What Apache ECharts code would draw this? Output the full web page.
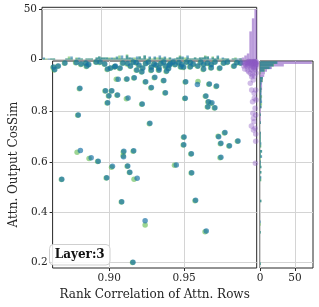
<!DOCTYPE html>
<html><head><meta charset="utf-8">
<script src="https://cdn.jsdelivr.net/npm/echarts@6/dist/echarts.min.js"></script>
<style>html,body{margin:0;padding:0;background:#fff}#c{width:319px;height:307px}</style>
</head><body><div id="c"></div>
<script>
const xTicks = [0.90, 0.95];
const yTicks = [0.2, 0.4, 0.6, 0.8];
const countTicks = [0, 50];
const xTitle = 'Rank Correlation of Attn. Rows';
const yTitle = 'Attn. Output CosSim';
const layerLabel = 'Layer:3';

const blueSeries = [
[0.8629,0.9777],[0.8661,0.9817],[0.8705,0.9936],[0.8781,0.9956],[0.8813,0.9896],[0.8845,0.9936],[0.8864,0.9876],[0.8851,0.9817],
[0.8914,0.9976],[0.8940,0.9976],[0.8971,0.9896],[0.8990,0.9697],[0.9010,0.9737],[0.9041,0.9817],[0.9073,0.9737],[0.9092,0.9936],
[0.9124,0.9916],[0.9143,0.9817],[0.9162,0.9976],[0.9181,0.9956],[0.9200,0.9857],[0.9225,0.9737],[0.9244,0.9916],[0.9263,0.9976],
[0.9282,0.9777],[0.9301,0.9896],[0.9314,0.9857],[0.9333,0.9737],[0.9346,0.9916],[0.9365,0.9976],[0.9378,0.9817],[0.9397,0.9717],
[0.9409,0.9916],[0.9428,0.9976],[0.9441,0.9876],[0.9466,0.9956],[0.9485,0.9876],[0.9498,0.9777],[0.9517,0.9976],[0.9542,0.9956],
[0.9562,0.9896],[0.9593,0.9817],[0.9612,0.9976],[0.9631,0.9876],[0.9657,0.9936],[0.9682,0.9876],[0.9707,0.9976],[0.9739,0.9737],
[0.9765,0.9936],[0.9790,0.9976],[0.9834,0.9817],[0.9853,0.9956],[0.9879,0.9936],[0.9282,0.9657],[0.9333,0.9657],[0.9384,0.9617],
[0.9403,0.9857],[0.9479,0.9789],[0.9542,0.9789],[0.9631,0.9697],[0.9682,0.9749],[0.9219,0.9590],[0.9185,0.9657],[0.9039,0.9789],
[0.8637,0.9677],
[0.8805,0.8928],[0.8794,0.7865],[0.8808,0.6455],[0.8684,0.5303],[0.8880,0.6165],[0.8927,0.6020],[0.8984,0.5367],[0.9022,0.5820],
[0.9084,0.4410],[0.9098,0.6418],[0.9164,0.6438],[0.9096,0.6203],[0.9124,0.5833],[0.9138,0.5586],[0.9187,0.5343],[0.9240,0.3654],
[0.9159,0.1996],[0.8976,0.8833],[0.9018,0.8833],[0.8999,0.8633],[0.9056,0.8661],[0.8990,0.8355],[0.9126,0.8545],[0.9221,0.8303],
[0.9272,0.7534],[0.9060,0.9287],[0.9119,0.9299],[0.9168,0.9351],[0.9244,0.9191],[0.9282,0.8960],[0.9305,0.9365],[0.9376,0.8753],
[0.9365,0.9239],[0.9508,0.8530],[0.9511,0.9191],[0.9589,0.9080],[0.9669,0.9100],[0.9717,0.9020],[0.9646,0.8622],[0.9663,0.8394],
[0.9686,0.8350],[0.9706,0.8155],[0.9659,0.8195],[0.9500,0.6988],[0.9498,0.6681],[0.9549,0.6323],[0.9731,0.7000],[0.9773,0.7167],
[0.9746,0.6737],[0.9803,0.6641],[0.9860,0.6829],[0.9746,0.6179],[0.9448,0.5873],[0.9551,0.5566],[0.9577,0.4466],[0.9648,0.3245]
];

const greenSeries = [
[0.8625,0.9760],[0.8656,0.9802],[0.8702,0.9925],[0.8776,0.9950],[0.8810,0.9880],[0.8841,0.9920],[0.8860,0.9866],[0.8847,0.9801],
[0.8911,0.9968],[0.8935,0.9961],[0.8968,0.9884],[0.8986,0.9680],[0.9006,0.9729],[0.9037,0.9799],[0.9070,0.9722],[0.9088,0.9928],
[0.9119,0.9900],[0.9140,0.9805],[0.9158,0.9962],[0.9177,0.9945],[0.9196,0.9840],[0.9221,0.9726],[0.9241,0.9903],[0.9258,0.9966],
[0.9279,0.9760],[0.9297,0.9887],[0.9310,0.9843],[0.9330,0.9725],[0.9342,0.9902],[0.9361,0.9967],[0.9374,0.9800],[0.9393,0.9706],
[0.9405,0.9905],[0.9424,0.9960],[0.9437,0.9864],[0.9462,0.9941],[0.9481,0.9868],[0.9494,0.9761],[0.9513,0.9965],[0.9538,0.9946],
[0.9558,0.9881],[0.9589,0.9806],[0.9608,0.9961],[0.9627,0.9865],[0.9653,0.9921],[0.9678,0.9867],[0.9703,0.9962],[0.9735,0.9721],
[0.9761,0.9926],[0.9786,0.9960],[0.9830,0.9806],[0.9849,0.9940],[0.9875,0.9925],[0.9278,0.9641],[0.9329,0.9648],[0.9380,0.9600],
[0.9399,0.9846],[0.9475,0.9773],[0.9538,0.9780],[0.9627,0.9682],[0.9678,0.9740],[0.9215,0.9575],[0.9181,0.9648],[0.9035,0.9774],
[0.8633,0.9662],
[0.8801,0.8912],[0.8790,0.7850],[0.8786,0.6378],[0.8681,0.5290],[0.8866,0.6135],[0.8923,0.6008],[0.8980,0.5352],[0.9016,0.5780],
[0.9081,0.4398],[0.9094,0.6395],[0.9160,0.6425],[0.9093,0.6240],[0.9120,0.5820],[0.9135,0.5570],[0.9166,0.5303],[0.9240,0.3482],
[0.9156,0.1985],[0.8972,0.8820],[0.9014,0.8818],[0.8995,0.8620],[0.9052,0.8648],[0.8986,0.8340],[0.9115,0.8515],[0.9217,0.8290],
[0.9268,0.7520],[0.9048,0.9287],[0.9115,0.9285],[0.9164,0.9336],[0.9240,0.9176],[0.9278,0.8945],[0.9301,0.9350],[0.9372,0.8740],
[0.9361,0.9225],[0.9504,0.8517],[0.9507,0.9180],[0.9593,0.9199],[0.9665,0.9085],[0.9713,0.9005],[0.9642,0.8608],[0.9659,0.8380],
[0.9678,0.8325],[0.9702,0.8140],[0.9655,0.8182],[0.9496,0.6975],[0.9494,0.6668],[0.9545,0.6310],[0.9727,0.7015],[0.9769,0.7152],
[0.9742,0.6722],[0.9799,0.6626],[0.9856,0.6815],[0.9740,0.6165],[0.9436,0.5866],[0.9547,0.5552],[0.9573,0.4452],[0.9640,0.3215]
];

const purpleSeries = [
[0.9891,0.9976],[0.9904,0.9936],[0.9917,0.9976],[0.9923,0.9896],[0.9930,0.9996],[0.9936,0.9936],[0.9942,0.9976],[0.9945,0.9896],
[0.9949,0.9996],[0.9955,0.9936],[0.9958,0.9976],[0.9961,0.9896],[0.9964,0.9996],[0.9968,0.9936],[0.9971,0.9976],[0.9974,0.9896],
[0.9977,0.9996],[0.9980,0.9936],[0.9983,0.9976],[0.9983,0.9876],[0.9977,0.9936],[0.9968,0.9996],[0.9952,0.9936],[0.9936,0.9996],
[0.9923,0.9956],[0.9911,0.9896],
[0.9898,0.9817],[0.9911,0.9857],[0.9922,0.9789],[0.9930,0.9837],[0.9942,0.9777],[0.9949,0.9857],[0.9955,0.9797],[0.9961,0.9857],
[0.9968,0.9777],[0.9974,0.9817],[0.9980,0.9857],[0.9980,0.9757],[0.9964,0.9737],
[0.9904,0.9697],[0.9923,0.9657],[0.9931,0.9590],[0.9942,0.9526],[0.9949,0.9677],[0.9961,0.9617],[0.9974,0.9657],[0.9980,0.9538],
[0.9955,0.9458],[0.9971,0.9418],
[0.9951,0.9390],[0.9962,0.9259],[0.9942,0.9127],[0.9951,0.8861],[0.9968,0.8729],[0.9980,0.8462],[0.9957,0.8394],[0.9974,0.8131],
[0.9959,0.7932],[0.9978,0.7865],[0.9963,0.7733],[0.9966,0.7598],[0.9949,0.7426],[0.9974,0.7335],[0.9963,0.7267],[0.9978,0.7108],
[0.9978,0.6817],[0.9976,0.5940],[0.9978,0.8861],[0.9969,0.8530]
];

// purple marginal histogram counts
const purpleTopCounts = [1, 2, 4, 6, 28, 41, 50];          // x-bins ending at 0.9986
const purpleRightCounts = [74, 34, 17, 10, 7, 6, 4, 4, 3, 3, 3, 2, 2, 2, 2, 2, 1, 2, 1, 1, 1, 1, 1, 1, 0, 0, 0, 1, 0, 0, 0, 0, 0, 0, 0, 0, 0, 0, 1];

// ---- layout / binning params
const X_MIN = 0.86225, X_MAX = 0.99847, Y_MIN = 0.1769, Y_MAX = 1.0016;
const XB0 = 0.8626, XBW = 0.0016, NXB = 85;
const YBTOP = 1.0005, YBH = 0.0104, NYB = 80;

function histX(pts){ const c=new Array(NXB).fill(0); pts.forEach(p=>{const i=Math.floor((p[0]-XB0)/XBW); if(i>=0&&i<NXB)c[i]++;}); return c.map((n,i)=>[XB0+i*XBW, XB0+(i+1)*XBW, n]).filter(d=>d[2]>0); }
function histY(pts){ const c=new Array(NYB).fill(0); pts.forEach(p=>{const i=Math.floor((YBTOP-p[1])/YBH); if(i>=0&&i<NYB)c[i]++;}); return c.map((n,i)=>[YBTOP-(i+1)*YBH, YBTOP-i*YBH, n]).filter(d=>d[2]>0); }
const purpleTopData = purpleTopCounts.map((n,k)=>{const i=NXB-purpleTopCounts.length+k; return [XB0+i*XBW, XB0+(i+1)*XBW, n];}).filter(d=>d[2]>0);
const purpleRightData = purpleRightCounts.map((n,i)=>[YBTOP-(i+1)*YBH, YBTOP-i*YBH, n]).filter(d=>d[2]>0);

const C_BLUE='rgba(25,115,165,0.85)', C_GREEN='rgba(80,180,60,0.7)', C_PURPLE='rgba(140,90,195,0.5)';
const H_BLUE='rgba(25,115,165,0.6)', H_GREEN='rgba(80,180,60,0.55)', H_PURPLE='rgba(140,90,195,0.6)';
const FONT='DejaVu Serif', TXT='#262626';

function vBar(color){ return function(params, api){ const p0=api.coord([api.value(0),0]), p1=api.coord([api.value(1),api.value(2)]);
  return {type:'rect', shape:{x:p0[0], y:p1[1], width:p1[0]-p0[0], height:p0[1]-p1[1]}, style:{fill:color}}; }; }
function hBar(color){ return function(params, api){ const p0=api.coord([0,api.value(0)]), p1=api.coord([api.value(2),api.value(1)]);
  return {type:'rect', shape:{x:p0[0], y:p1[1], width:p1[0]-p0[0], height:p0[1]-p1[1]}, style:{fill:color}}; }; }

const gridStyle = {show:true, borderColor:'#262626', borderWidth:1, backgroundColor:'transparent'};
const lbl = {fontFamily:FONT, fontSize:10.5, color:TXT};
const splitL = {show:true, lineStyle:{color:'#d4d4d4', width:1}};

const chart = echarts.init(document.getElementById('c'), null, {renderer:'canvas'});
chart.setOption({
  animation:false,
  grid:[
    Object.assign({left:42, top:61, width:214.7, height:207}, gridStyle),
    Object.assign({left:42, top:7.3, width:214.7, height:52.2}, gridStyle),
    Object.assign({left:260, top:61, width:53, height:207}, gridStyle)
  ],
  xAxis:[
    {gridIndex:0, type:'value', min:X_MIN, max:X_MAX, axisLine:{show:false},
     axisTick:{show:true, length:3, customValues:xTicks, lineStyle:{color:TXT}},
     axisLabel:Object.assign({customValues:xTicks, formatter:v=>v.toFixed(2), margin:5}, lbl),
     splitLine:splitL, name:xTitle, nameLocation:'middle', nameGap:19,
     nameTextStyle:{fontFamily:FONT, fontSize:12, color:TXT}},
    {gridIndex:1, type:'value', min:X_MIN, max:X_MAX, axisLine:{show:false},
     axisTick:{show:false, customValues:xTicks}, axisLabel:{show:false, customValues:xTicks}, splitLine:splitL},
    {gridIndex:2, type:'value', min:0, max:75.7, axisLine:{show:false},
     axisTick:{show:true, length:3, customValues:countTicks, lineStyle:{color:TXT}},
     axisLabel:Object.assign({customValues:countTicks, margin:5}, lbl), splitLine:splitL}
  ],
  yAxis:[
    {gridIndex:0, type:'value', min:Y_MIN, max:Y_MAX, axisLine:{show:false},
     axisTick:{show:true, length:3, customValues:yTicks, lineStyle:{color:TXT}},
     axisLabel:Object.assign({customValues:yTicks, formatter:v=>v.toFixed(1), margin:5}, lbl),
     splitLine:splitL, name:yTitle, nameLocation:'middle', nameGap:24,
     nameTextStyle:{fontFamily:FONT, fontSize:12, color:TXT}},
    {gridIndex:1, type:'value', min:0, max:52, axisLine:{show:false},
     axisTick:{show:true, length:3, customValues:countTicks, lineStyle:{color:TXT}},
     axisLabel:Object.assign({customValues:countTicks, margin:5}, lbl), splitLine:splitL},
    {gridIndex:2, type:'value', min:Y_MIN, max:Y_MAX, axisLine:{show:false},
     axisTick:{show:false, customValues:yTicks}, axisLabel:{show:false, customValues:yTicks}, splitLine:splitL}
  ],
  series:[
    {type:'scatter', xAxisIndex:0, yAxisIndex:0, data:greenSeries, symbolSize:5.5, itemStyle:{color:C_GREEN}},
    {type:'scatter', xAxisIndex:0, yAxisIndex:0, data:blueSeries, symbolSize:5.5, itemStyle:{color:C_BLUE}},
    {type:'scatter', xAxisIndex:0, yAxisIndex:0, data:purpleSeries, symbolSize:5.5, itemStyle:{color:C_PURPLE}},
    {type:'custom', xAxisIndex:1, yAxisIndex:1, data:purpleTopData, renderItem:vBar(H_PURPLE)},
    {type:'custom', xAxisIndex:1, yAxisIndex:1, data:histX(greenSeries), renderItem:vBar(H_GREEN)},
    {type:'custom', xAxisIndex:1, yAxisIndex:1, data:histX(blueSeries), renderItem:vBar(H_BLUE)},
    {type:'custom', xAxisIndex:2, yAxisIndex:2, data:purpleRightData, renderItem:hBar(H_PURPLE)},
    {type:'custom', xAxisIndex:2, yAxisIndex:2, data:histY(greenSeries), renderItem:hBar(H_GREEN)},
    {type:'custom', xAxisIndex:2, yAxisIndex:2, data:histY(blueSeries), renderItem:hBar(H_BLUE)}
  ],
  graphic:[
    {type:'rect', z:100, shape:{x:49.5, y:244.5, width:60.5, height:20.5, r:4},
     style:{fill:'rgba(255,255,255,0.85)', stroke:'#cfcfcf', lineWidth:1}},
    {type:'text', z:101, x:79.7, y:255, style:{text:layerLabel, font:'bold 12px "DejaVu Serif"', fill:'#111', align:'center', verticalAlign:'middle'}}
  ]
});
</script></body></html>
